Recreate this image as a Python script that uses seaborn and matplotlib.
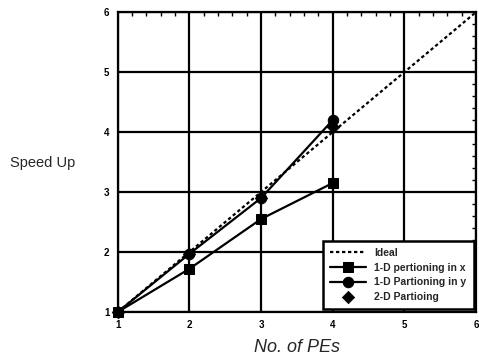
import matplotlib
matplotlib.use("Agg")
import matplotlib.pyplot as plt
import matplotlib.ticker as mticker
import numpy as np
import pandas as pd
import seaborn as sns

# ---------------------------------------------------------------------------
# Data
# ---------------------------------------------------------------------------
pes = [1, 2, 3, 4]
ideal_x = [1, 6]
ideal_y = [1, 6]
part_x = [1.0, 1.72, 2.55, 3.15]
part_y = [1.0, 1.97, 2.9, 4.2]
part_2d = [1.0, 1.97, 2.9, 4.08]

sns.set_theme(style="white")
plt.rcParams["font.family"] = ["Liberation Sans", "DejaVu Sans"]

df = pd.DataFrame({
    "pes": pes * 2,
    "speedup": part_x + part_y,
    "series": ["1-D pertioning in x"] * 4 + ["1-D Partioning in y"] * 4,
})

fig = plt.figure(figsize=(4.79, 3.64), dpi=100)
ax = fig.add_axes([0.246, 0.143, 0.748, 0.824])

ax.plot(ideal_x, ideal_y, color="black", linestyle=(0, (1.5, 1.2)),
        linewidth=1.6, label="Ideal", zorder=3)
sns.scatterplot(x=pes, y=part_2d, marker="D", color="black", s=40,
                label="2-D Partioing", ax=ax, zorder=3.5, edgecolor="black",
                clip_on=False)
sns.lineplot(data=df, x="pes", y="speedup", hue="series", style="series",
             hue_order=["1-D Partioning in y", "1-D pertioning in x"],
             style_order=["1-D Partioning in y", "1-D pertioning in x"],
             markers={"1-D pertioning in x": "s", "1-D Partioning in y": "o"},
             dashes=False, palette=["black", "black"], linewidth=1.6,
             markersize=7.5, markeredgecolor="black", ax=ax, zorder=4,
             clip_on=False)

ax.set_xlim(1, 6)
ax.set_ylim(1, 6)
ax.xaxis.set_major_locator(mticker.MultipleLocator(1))
ax.yaxis.set_major_locator(mticker.MultipleLocator(1))
ax.xaxis.set_minor_locator(mticker.MultipleLocator(0.2))
ax.yaxis.set_minor_locator(mticker.MultipleLocator(0.2))
ax.grid(True, which="major", color="black", linewidth=1.6)
ax.tick_params(which="both", direction="in", top=True, right=True,
               colors="black")
ax.tick_params(which="major", length=5, width=1.2, labelsize=7, pad=6)
ax.tick_params(which="minor", length=3, width=1.0)
for lbl in ax.get_xticklabels() + ax.get_yticklabels():
    lbl.set_fontweight("bold")
for s in ax.spines.values():
    s.set_color("black")
    s.set_linewidth(1.6)

ax.set_xlabel("No. of PEs", fontsize=13, style="italic", labelpad=6)
ax.set_ylabel("")
fig.text(0.02, 0.553, "Speed Up", fontsize=10.5, ha="left", va="center")

handles, labels = ax.get_legend_handles_labels()
order = ["Ideal", "1-D pertioning in x", "1-D Partioning in y", "2-D Partioing"]
hmap = dict(zip(labels, handles))
leg = ax.legend([hmap[k] for k in order], order, loc="lower right",
                bbox_to_anchor=(1.0, 0.0), fontsize=7.5, frameon=True,
                fancybox=False, edgecolor="black", framealpha=1,
                borderpad=0.7, handlelength=3.4, labelspacing=0.45,
                borderaxespad=0.25)
leg.get_frame().set_linewidth(1.8)
for t in leg.get_texts():
    t.set_fontweight("bold")

fig.savefig("out.png", dpi=100)
